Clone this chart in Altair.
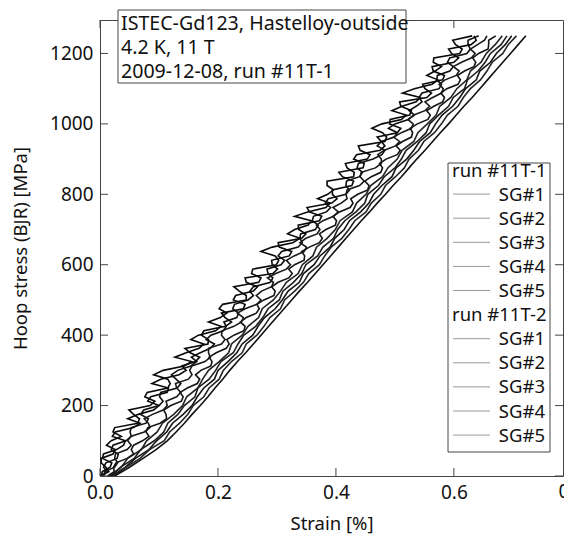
import altair as alt
import pandas as pd

# Hoop stress [MPa] sampling grids
stress = [0, 25, 50, 75, 100, 125, 150, 175, 200, 225, 250, 275, 300, 325, 350, 375, 400,
          425, 450, 475, 500, 525, 550, 575, 600, 625, 650, 675, 700, 725, 750, 775, 800,
          825, 850, 875, 900, 925, 950, 975, 1000, 1025, 1050, 1075, 1100, 1125, 1150,
          1175, 1200, 1225, 1250]
stress_fine = [0, 12.5, 25, 37.5, 50, 62.5, 75, 87.5, 100, 112.5, 125, 137.5, 150, 162.5,
               175, 187.5, 200, 212.5, 225, 237.5, 250, 262.5, 275, 287.5, 300, 312.5, 325,
               337.5, 350, 362.5, 375, 387.5, 400, 412.5, 425, 437.5, 450, 462.5, 475, 487.5,
               500, 512.5, 525, 537.5, 550, 562.5, 575, 587.5, 600, 612.5, 625, 637.5, 650,
               662.5, 675, 687.5, 700, 712.5, 725, 737.5, 750, 762.5, 775, 787.5, 800, 812.5,
               825, 837.5, 850, 862.5, 875, 887.5, 900, 912.5, 925, 937.5, 950, 962.5, 975,
               987.5, 1000, 1012.5, 1025, 1037.5, 1050, 1062.5, 1075, 1087.5, 1100, 1112.5,
               1125, 1137.5, 1150, 1162.5, 1175, 1187.5, 1200, 1212.5, 1225, 1237.5, 1250]

# Strain [%] per strain gauge (noisy gauges on the fine grid)
r1_sg1 = [0.000, 0.015, 0.010, 0.002, 0.002, 0.022, 0.026, 0.011, 0.019, 0.036,
          0.022, 0.025, 0.064, 0.067, 0.057, 0.049, 0.085, 0.093, 0.076, 0.080,
          0.115, 0.119, 0.115, 0.091, 0.107, 0.143, 0.155, 0.127, 0.146, 0.168,
          0.176, 0.154, 0.167, 0.196, 0.205, 0.184, 0.204, 0.215, 0.202, 0.208,
          0.248, 0.248, 0.236, 0.227, 0.269, 0.273, 0.257, 0.259, 0.299, 0.303,
          0.297, 0.273, 0.292, 0.327, 0.339, 0.318, 0.330, 0.353, 0.358, 0.330,
          0.352, 0.383, 0.390, 0.369, 0.386, 0.396, 0.385, 0.385, 0.430, 0.431,
          0.419, 0.416, 0.453, 0.458, 0.441, 0.438, 0.483, 0.486, 0.479, 0.461,
          0.478, 0.511, 0.519, 0.495, 0.512, 0.536, 0.543, 0.513, 0.533, 0.563,
          0.573, 0.554, 0.568, 0.579, 0.565, 0.566, 0.610, 0.614, 0.603, 0.598,
          0.631]
r1_sg2 = [0.005, 0.012, 0.006, 0.010, 0.029, 0.031, 0.019, 0.022, 0.044, 0.053,
          0.051, 0.053, 0.078, 0.082, 0.069, 0.074, 0.100, 0.107, 0.101, 0.103,
          0.131, 0.137, 0.129, 0.121, 0.132, 0.154, 0.164, 0.155, 0.170, 0.187,
          0.194, 0.180, 0.188, 0.209, 0.214, 0.210, 0.232, 0.235, 0.225, 0.228,
          0.251, 0.260, 0.254, 0.260, 0.289, 0.293, 0.285, 0.283, 0.307, 0.313,
          0.302, 0.308, 0.336, 0.343, 0.339, 0.340, 0.365, 0.370, 0.360, 0.362,
          0.384, 0.391, 0.382, 0.387, 0.417, 0.423, 0.417, 0.418, 0.440, 0.445,
          0.436, 0.438, 0.463, 0.478, 0.483, 0.470, 0.477, 0.499, 0.504, 0.489,
          0.500, 0.523, 0.533, 0.524, 0.536, 0.546, 0.541, 0.546, 0.575, 0.579,
          0.571, 0.572, 0.593, 0.599, 0.589, 0.593, 0.622, 0.628, 0.624, 0.624,
          0.642]
r1_sg3 = [0.006, 0.008, 0.025, 0.030, 0.025, 0.026, 0.046, 0.053, 0.047, 0.052,
          0.075, 0.085, 0.082, 0.075, 0.089, 0.107, 0.114, 0.112, 0.130, 0.137,
          0.130, 0.128, 0.150, 0.156, 0.152, 0.156, 0.178, 0.187, 0.184, 0.184,
          0.206, 0.212, 0.206, 0.207, 0.227, 0.240, 0.243, 0.233, 0.246, 0.266,
          0.273, 0.265, 0.274, 0.291, 0.294, 0.284, 0.298, 0.316, 0.323, 0.316,
          0.329, 0.346, 0.350, 0.339, 0.349, 0.368, 0.373, 0.367, 0.378, 0.396,
          0.404, 0.395, 0.409, 0.419, 0.417, 0.419, 0.440, 0.448, 0.441, 0.443,
          0.467, 0.477, 0.477, 0.471, 0.482, 0.501, 0.508, 0.498, 0.511, 0.528,
          0.531, 0.522, 0.532, 0.551, 0.559, 0.551, 0.564, 0.579, 0.582, 0.575,
          0.585, 0.604, 0.609, 0.599, 0.613, 0.630, 0.636, 0.628, 0.640, 0.652,
          0.656]
r1_sg4 = [0.013, 0.024, 0.023, 0.027, 0.046, 0.057, 0.053, 0.057, 0.072, 0.083,
          0.078, 0.081, 0.102, 0.113, 0.112, 0.108, 0.120, 0.138, 0.141, 0.136,
          0.148, 0.165, 0.169, 0.162, 0.171, 0.188, 0.190, 0.185, 0.197, 0.214,
          0.219, 0.215, 0.227, 0.244, 0.246, 0.238, 0.248, 0.265, 0.270, 0.266,
          0.278, 0.295, 0.297, 0.291, 0.302, 0.320, 0.326, 0.320, 0.330, 0.346,
          0.347, 0.342, 0.355, 0.372, 0.377, 0.372, 0.383, 0.399, 0.401, 0.395,
          0.406, 0.424, 0.429, 0.425, 0.437, 0.454, 0.456, 0.449, 0.460, 0.476,
          0.479, 0.474, 0.485, 0.504, 0.509, 0.502, 0.513, 0.528, 0.530, 0.526,
          0.538, 0.556, 0.560, 0.554, 0.566, 0.581, 0.584, 0.578, 0.588, 0.607,
          0.611, 0.606, 0.618, 0.634, 0.637, 0.632, 0.642, 0.658, 0.659, 0.659,
          0.671]
r1_sg5 = [0.016, 0.036, 0.047, 0.070, 0.079, 0.097, 0.106, 0.125, 0.140, 0.147, 0.166, 0.174,
          0.184, 0.202, 0.218, 0.223, 0.241, 0.251, 0.269, 0.275, 0.294, 0.306, 0.316, 0.336,
          0.343, 0.361, 0.367, 0.385, 0.399, 0.407, 0.428, 0.435, 0.451, 0.459, 0.479, 0.488,
          0.504, 0.512, 0.532, 0.539, 0.555, 0.570, 0.576, 0.595, 0.605, 0.622, 0.628, 0.646,
          0.655, 0.670, 0.682]
r2_sg1 = [0.002, 0.004, 0.017, 0.020, 0.004, 0.006, 0.028, 0.040, 0.043, 0.021,
          0.026, 0.057, 0.068, 0.047, 0.065, 0.091, 0.100, 0.081, 0.086, 0.114,
          0.116, 0.088, 0.103, 0.134, 0.146, 0.139, 0.162, 0.169, 0.153, 0.144,
          0.183, 0.184, 0.172, 0.176, 0.213, 0.223, 0.212, 0.206, 0.243, 0.246,
          0.226, 0.230, 0.260, 0.267, 0.248, 0.246, 0.293, 0.301, 0.292, 0.291,
          0.321, 0.325, 0.304, 0.302, 0.342, 0.349, 0.337, 0.336, 0.372, 0.376,
          0.355, 0.351, 0.393, 0.402, 0.394, 0.394, 0.427, 0.430, 0.411, 0.405,
          0.446, 0.448, 0.430, 0.435, 0.475, 0.483, 0.477, 0.470, 0.504, 0.510,
          0.491, 0.492, 0.525, 0.528, 0.510, 0.508, 0.554, 0.562, 0.551, 0.547,
          0.581, 0.584, 0.565, 0.563, 0.600, 0.608, 0.596, 0.591, 0.629, 0.638,
          0.634]
r2_sg2 = [0.019, 0.035, 0.058, 0.069, 0.092, 0.108, 0.115, 0.132, 0.143, 0.161, 0.166, 0.185,
          0.196, 0.205, 0.226, 0.234, 0.244, 0.264, 0.276, 0.285, 0.304, 0.310, 0.328, 0.342,
          0.349, 0.369, 0.378, 0.396, 0.403, 0.415, 0.434, 0.449, 0.454, 0.472, 0.482, 0.500,
          0.511, 0.519, 0.538, 0.553, 0.559, 0.574, 0.591, 0.599, 0.618, 0.623, 0.641, 0.653,
          0.662, 0.680, 0.690]
r2_sg3 = [0.020, 0.043, 0.060, 0.083, 0.096, 0.113, 0.123, 0.141, 0.156, 0.165, 0.176, 0.194,
          0.200, 0.217, 0.232, 0.241, 0.259, 0.268, 0.279, 0.297, 0.309, 0.319, 0.338, 0.345,
          0.363, 0.373, 0.390, 0.398, 0.414, 0.423, 0.442, 0.456, 0.464, 0.478, 0.495, 0.502,
          0.520, 0.532, 0.542, 0.560, 0.569, 0.580, 0.598, 0.610, 0.620, 0.638, 0.644, 0.662,
          0.672, 0.687, 0.698]
r2_sg4 = [0.024, 0.044, 0.068, 0.084, 0.109, 0.118, 0.135, 0.149, 0.158, 0.176, 0.185, 0.202,
          0.209, 0.223, 0.241, 0.248, 0.266, 0.278, 0.288, 0.306, 0.313, 0.330, 0.345, 0.354,
          0.372, 0.381, 0.392, 0.410, 0.422, 0.432, 0.451, 0.460, 0.476, 0.484, 0.501, 0.516,
          0.524, 0.540, 0.549, 0.567, 0.579, 0.589, 0.607, 0.616, 0.628, 0.645, 0.656, 0.665,
          0.683, 0.692, 0.706]
r2_sg5 = [0.025, 0.050, 0.073, 0.095, 0.114, 0.129, 0.143, 0.156, 0.170, 0.183, 0.195, 0.208,
          0.220, 0.233, 0.247, 0.260, 0.273, 0.286, 0.299, 0.312, 0.325, 0.338, 0.352, 0.365,
          0.378, 0.391, 0.404, 0.417, 0.430, 0.443, 0.457, 0.470, 0.484, 0.497, 0.511, 0.524,
          0.537, 0.551, 0.564, 0.577, 0.591, 0.604, 0.617, 0.631, 0.644, 0.657, 0.670, 0.683,
          0.696, 0.709, 0.722]

series_keys = ["r1_sg1", "r1_sg2", "r1_sg3", "r1_sg4", "r1_sg5",
               "r2_sg1", "r2_sg2", "r2_sg3", "r2_sg4", "r2_sg5"]
series_vals = [r1_sg1, r1_sg2, r1_sg3, r1_sg4, r1_sg5, r2_sg1, r2_sg2, r2_sg3, r2_sg4, r2_sg5]
series_grid = [stress_fine, stress_fine, stress_fine, stress_fine, stress,
               stress_fine, stress, stress, stress, stress]
series_colors = ["#0a0a0a", "#101010", "#1a1a1a", "#141414", "#222222",
                 "#0a0a0a", "#1e1e1e", "#161616", "#262626", "#121212"]

x_ticks = [0.0, 0.2, 0.4, 0.6]
x_last_tick = [0.8]
y_ticks = [0, 200, 400, 600, 800, 1000, 1200]

annotation_lines = ["ISTEC-Gd123, Hastelloy-outside", "4.2 K, 11 T", "2009-12-08, run #11T-1"]
legend_rows = [("run #11T-1", True), ("SG#1", False), ("SG#2", False), ("SG#3", False),
               ("SG#4", False), ("SG#5", False), ("run #11T-2", True), ("SG#1", False),
               ("SG#2", False), ("SG#3", False), ("SG#4", False), ("SG#5", False)]

rows = []
for key, grid, vals in zip(series_keys, series_grid, series_vals):
    for i, (s, e) in enumerate(zip(grid, vals)):
        rows.append({"series": key, "k": i, "stress": s, "strain": e})
df = pd.DataFrame(rows)

FONT = "Noto Sans"
W, H = 463, 456
XDOM = [0, 0.785]
YDOM = [0, 1295]
FRAME = "#444444"
TXT = "#111111"

xs = alt.Scale(domain=XDOM, nice=False, zero=False, padding=0)
ys = alt.Scale(domain=YDOM, nice=False, zero=False, padding=0)

lines = alt.Chart(df).mark_line(strokeWidth=1.6, clip=True).encode(
    x=alt.X("strain:Q", scale=xs,
            axis=alt.Axis(values=x_ticks, format=".1f", title="Strain [%]", ticks=False,
                          grid=False, labelPadding=7, titlePadding=12, labelFlush=False)),
    y=alt.Y("stress:Q", scale=ys,
            axis=alt.Axis(values=y_ticks, format="d", title="Hoop stress (BJR) [MPa]",
                          ticks=False, grid=False, labelPadding=7, titlePadding=19,
                          labelFlush=False)),
    color=alt.Color("series:N", scale=alt.Scale(domain=series_keys, range=series_colors),
                    legend=None),
    order=alt.Order("k:Q"),
    detail="series:N",
)

xt = pd.DataFrame({"v": x_ticks})
yt = pd.DataFrame({"v": y_ticks})
TL = 8
tick_layers = [
    alt.Chart(yt).mark_rule(color=FRAME).encode(y=alt.Y("v:Q", scale=ys), x=alt.value(0), x2=alt.value(TL)),
    alt.Chart(yt).mark_rule(color=FRAME).encode(y=alt.Y("v:Q", scale=ys), x=alt.value(W - TL), x2=alt.value(W)),
    alt.Chart(xt).mark_rule(color=FRAME).encode(x=alt.X("v:Q", scale=xs), y=alt.value(H - TL), y2=alt.value(H)),
    alt.Chart(xt).mark_rule(color=FRAME).encode(x=alt.X("v:Q", scale=xs), y=alt.value(0), y2=alt.value(TL)),
]
# last x label (0.8) sits at the cropped right edge
last_lab = alt.Chart(pd.DataFrame({"v": x_last_tick, "t": ["0.8"]})).mark_text(
    baseline="top", align="center", font=FONT, fontSize=19, color=TXT, clip=False).encode(
    x=alt.X("v:Q", scale=xs), y=alt.value(H + 7), text="t:N")

one = pd.DataFrame({"a": [0]})

ann_box = alt.Chart(one).mark_rect(fill="white", stroke=FRAME, strokeWidth=1).encode(
    x=alt.value(18), x2=alt.value(306), y=alt.value(-10), y2=alt.value(63))
ann_text = alt.Chart(one).mark_text(
    text=annotation_lines, align="left", baseline="alphabetic", font=FONT, fontSize=19.6,
    lineHeight=24, color=TXT).encode(x=alt.value(21), y=alt.value(9.5))

leg_box = alt.Chart(one).mark_rect(fill="white", stroke=FRAME, strokeWidth=1).encode(
    x=alt.value(348), x2=alt.value(450), y=alt.value(143), y2=alt.value(432))
ROW0, ROWH = 156.5, 24.1
leg_layers = []
for i, (lab, header) in enumerate(legend_rows):
    yy = ROW0 + i * ROWH
    if header:
        leg_layers.append(alt.Chart(one).mark_text(
            text=lab, align="left", baseline="alphabetic", font=FONT, fontSize=18.5,
            color=TXT).encode(x=alt.value(352), y=alt.value(yy)))
    else:
        leg_layers.append(alt.Chart(one).mark_text(
            text=lab, align="right", baseline="alphabetic", font=FONT, fontSize=18.5,
            color=TXT).encode(x=alt.value(445), y=alt.value(yy)))
        leg_layers.append(alt.Chart(one).mark_rule(color="#9a9a9a", strokeWidth=1).encode(
            x=alt.value(353), x2=alt.value(390), y=alt.value(yy - 6.5)))

chart = alt.layer(lines, *tick_layers, last_lab, ann_box, ann_text, leg_box, *leg_layers).properties(
    width=W, height=H,
    autosize=alt.AutoSizeParams(type="none"),
    padding={"left": 92, "top": 12, "right": 1, "bottom": 58},
).configure_view(stroke=FRAME, strokeWidth=1).configure_axis(
    domainColor=FRAME, labelFont=FONT, labelFontSize=19, labelColor=TXT,
    titleFont=FONT, titleFontSize=18.5, titleFontWeight="normal", titleColor=TXT,
)

chart.save("out.html", embed_options={"renderer": "svg", "actions": False})
